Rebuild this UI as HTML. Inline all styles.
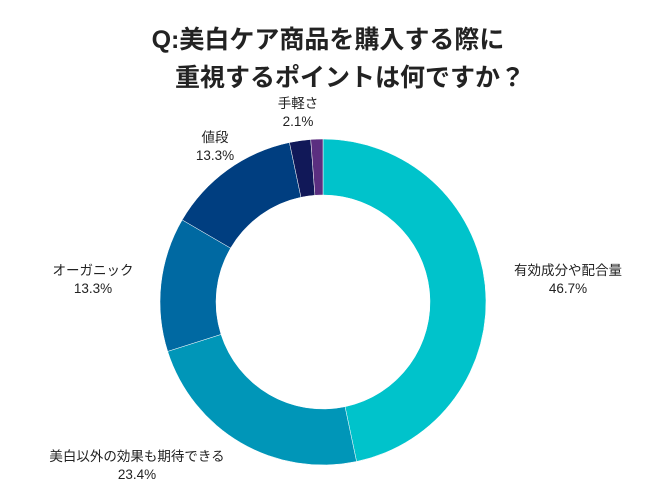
<!DOCTYPE html>
<html><head><meta charset="utf-8"><style>
body{margin:0;background:#fff;}
svg text{font-family:"Liberation Sans","Noto Sans CJK JP",sans-serif;fill:#222;}
</style></head><body>
<svg width="650" height="487">
<text x="328" y="48" text-anchor="middle" font-size="25" font-weight="bold">Q:美白ケア商品を購入する際に</text>
<text x="350" y="86" text-anchor="middle" font-size="25" font-weight="bold">重視するポイントは何ですか？</text>
<g id="slices"></g>
<g id="labels"></g>
</svg>
<script>
const categories=["有効成分や配合量","美白以外の効果も期待できる","オーガニック","値段","手軽さ","その他"];
const values=[46.7,23.4,13.3,13.3,2.1,1.2];
const showLabel=[true,true,true,true,true,false];
const colors=["#00C3CB","#0096B8","#0069A2","#003E80","#111858","#5B2E80"];
const labelPos=[[568,275],[137,461],[93,275],[215,142],[298,108],[0,0]];
const cx=323,cy=302,R=163,r=107;
const total=values.reduce((a,b)=>a+b,0);
const ns="http://www.w3.org/2000/svg";
const gs=document.getElementById("slices"),gl=document.getElementById("labels");
function pt(a,rad){return [cx+rad*Math.sin(a),cy-rad*Math.cos(a)];}
let acc=0;
values.forEach((v,i)=>{
  const a0=acc/total*2*Math.PI,a1=(acc+v)/total*2*Math.PI;acc+=v;
  const large=(a1-a0)>Math.PI?1:0;
  const [x0,y0]=pt(a0,R),[x1,y1]=pt(a1,R),[x2,y2]=pt(a1,r),[x3,y3]=pt(a0,r);
  const p=document.createElementNS(ns,"path");
  p.setAttribute("d",`M${x0},${y0}A${R},${R} 0 ${large} 1 ${x1},${y1}L${x2},${y2}A${r},${r} 0 ${large} 0 ${x3},${y3}Z`);
  p.setAttribute("fill",colors[i]);
  p.setAttribute("stroke","#fff");p.setAttribute("stroke-width","0.5");
  
  
  gs.appendChild(p);
  if(!showLabel[i])return;
  const [lx,ly]=labelPos[i];
  const t=document.createElementNS(ns,"text");
  t.setAttribute("x",lx);t.setAttribute("y",ly);t.setAttribute("text-anchor","middle");t.setAttribute("font-size","13.5");
  t.textContent=categories[i];
  
  
  gl.appendChild(t);
  const t2=document.createElementNS(ns,"text");
  t2.setAttribute("x",lx);t2.setAttribute("y",ly+18);t2.setAttribute("text-anchor","middle");t2.setAttribute("font-size","13.5");
  t2.textContent=values[i].toFixed(1)+"%";
  
  
  gl.appendChild(t2);
});
</script>
</body></html>
